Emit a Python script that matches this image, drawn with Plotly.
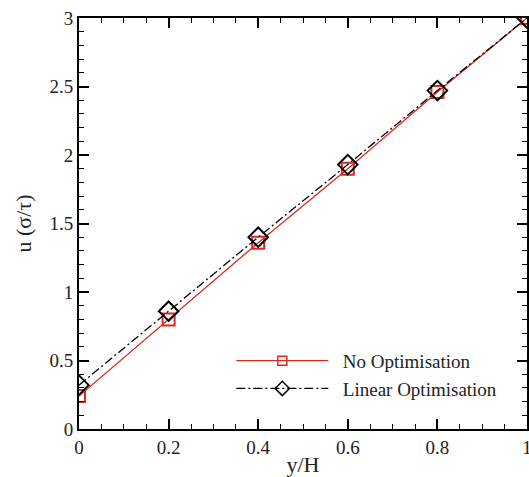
import plotly.graph_objects as go

x_vals = [0, 0.2, 0.4, 0.6, 0.8, 1.0]
no_opt = [0.24, 0.80, 1.36, 1.90, 2.46, 3.0]
lin_opt = [0.32, 0.86, 1.40, 1.93, 2.47, 3.0]
x_ticks = [0, 0.2, 0.4, 0.6, 0.8, 1]
x_ticktext = ["0", "0.2", "0.4", "0.6", "0.8", "1"]
y_ticks = [0, 0.5, 1, 1.5, 2, 2.5, 3]
y_ticktext = ["0", "0.5", "1", "1.5", "2", "2.5", "3"]
series_names = ["No Optimisation", "Linear Optimisation"]

RED = "#dc2a22"
FONT = "Liberation Serif, Times New Roman, serif"
DASHDOT = "9px,3px,2px,3px"

fig = go.Figure()
fig.add_trace(go.Scatter(
    x=x_vals, y=no_opt, name=series_names[0], mode="lines+markers", showlegend=False,
    line=dict(color=RED, width=1.3),
    marker=dict(symbol="square-open", size=12, color=RED, line=dict(width=2, color=RED)),
))
fig.add_trace(go.Scatter(
    x=x_vals, y=lin_opt, name=series_names[1], mode="lines+markers", showlegend=False,
    line=dict(color="black", width=1.3, dash=DASHDOT),
    marker=dict(symbol="diamond-open", size=15, color="black", line=dict(width=2, color="black")),
))
# legend-only entries with smaller markers
fig.add_trace(go.Scatter(
    x=[None], y=[None], name="  " + series_names[0], mode="lines+markers",
    line=dict(color=RED, width=1.3),
    marker=dict(symbol="square-open", size=9, color=RED, line=dict(width=1.5, color=RED)),
))
fig.add_trace(go.Scatter(
    x=[None], y=[None], name="  " + series_names[1], mode="lines+markers",
    line=dict(color="black", width=1.3, dash=DASHDOT),
    marker=dict(symbol="diamond-open", size=11, color="black", line=dict(width=1.5, color="black")),
))

axis_common = dict(
    showline=True, linecolor="black", linewidth=2, mirror="ticks",
    ticks="inside", ticklen=10, tickwidth=2, tickcolor="black",
    showgrid=False, zeroline=False, ticklabeloverflow="allow", automargin=False,
    tickfont=dict(family=FONT, size=19, color="#222"),
)

fig.update_xaxes(
    range=[0, 1], tickvals=x_ticks, ticktext=x_ticktext,
    minor=dict(ticks="inside", ticklen=5, tickwidth=1.3, tickcolor="black", dtick=0.05, tick0=0),
    title=dict(text="y/H", font=dict(family=FONT, size=22, color="#222"), standoff=0),
    **axis_common,
)
fig.update_yaxes(
    range=[0, 3], tickvals=y_ticks, ticktext=y_ticktext,
    minor=dict(ticks="inside", ticklen=5, tickwidth=1.3, tickcolor="black", dtick=0.1, tick0=0),
    title=dict(text="u (σ/τ)", font=dict(family=FONT, size=22, color="#222"), standoff=12),
    **axis_common,
)

fig.update_layout(
    width=529, height=477,
    margin=dict(l=79, r=2, t=18, b=48),
    paper_bgcolor="white", plot_bgcolor="white",
    showlegend=True,
    legend=dict(
        x=0.34, y=0.212, xanchor="left", yanchor="top",
        bgcolor="rgba(0,0,0,0)", itemwidth=92,
        font=dict(family=FONT, size=19, color="#222"),
        tracegroupgap=0,
    ),
)

fig.write_html("out.html")
